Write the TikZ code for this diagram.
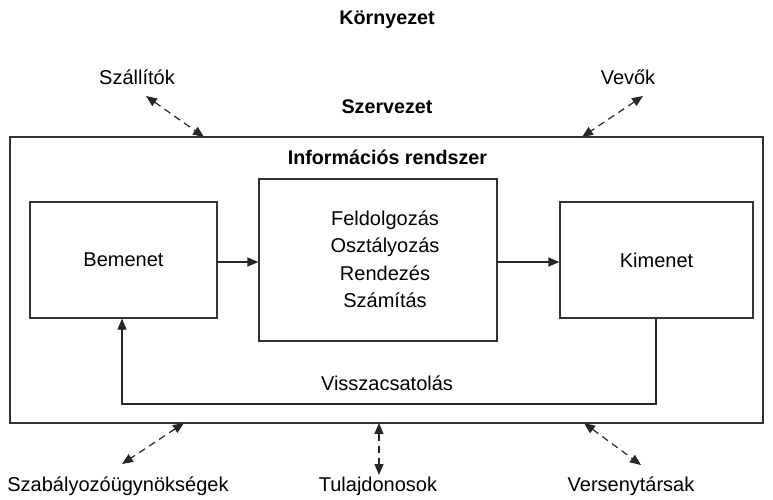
\documentclass[tikz,border=0pt]{standalone}
\usepackage{fontspec}
\setmainfont{Liberation Sans}
\usetikzlibrary{arrows.meta}
\begin{document}
\begin{tikzpicture}[x=1pt,y=-1pt,
  every node/.style={font=\fontsize{20}{24}\selectfont, inner sep=0pt},
  title/.style={font=\fontsize{19.7}{24}\selectfont\bfseries},
  box/.style={draw=black!80, line width=1.2pt},
  flow/.style={line width=1.2pt, draw=black!85, -{Triangle[length=11pt,width=9pt]}},
  link/.style={line width=1.2pt, draw=black!85, dash pattern=on 7pt off 5pt,
    {Triangle[length=11pt,width=9pt]}-{Triangle[length=11pt,width=9pt]}}]
  \useasboundingbox (0,0) rectangle (773,499);

  % organisation boundary and subsystem boxes
  \draw[box] (10,137) rectangle (763,423);
  \node[box, minimum width=187pt, minimum height=116pt] (in) at (123.5,260) {Bemenet};
  \node[box, minimum width=238pt, minimum height=162pt] (proc) at (378,260) {};
  \node[align=center] (steps) at (385,259)
    {Feldolgozás\\[3.5pt]Osztályozás\\[3.5pt]Rendezés\\[3.5pt]Számítás};
  \node[box, minimum width=193pt, minimum height=116pt] (out) at (656.5,260) {Kimenet};

  % titles
  \node[title] (env) at (387,20) {Környezet};
  \node[title] (org) at (387,107) {Szervezet};
  \node[title] (is) at (387.5,157) {Információs rendszer};

  % data flow
  \draw[flow] (in.east |- 0,262) -- (proc.west |- 0,262);
  \draw[flow] (proc.east |- 0,262) -- (out.west |- 0,262);
  \coordinate (fbR) at (656,404);
  \coordinate (fbL) at (122,404);
  \draw[flow] (out.south -| fbR) -- (fbR) -- (fbL) -- (in.south -| fbL);
  \node (fb) at (387,383) {Visszacsatolás};

  % environment actors
  \node (sup) at (137,77) {Szállítók};
  \node (cus) at (628,77) {Vevők};
  \node (reg) at (118,486) {Szabályozóügynökségek};
  \node (own) at (378,486) {Tulajdonosok};
  \node (com) at (631,486) {Versenytársak};

  \coordinate (supA) at (146,96);  \coordinate (supB) at (204,137);
  \coordinate (cusA) at (643,96);  \coordinate (cusB) at (582,137);
  \coordinate (regA) at (184,423); \coordinate (regB) at (122,464);
  \coordinate (ownA) at (379,423); \coordinate (ownB) at (379,475);
  \coordinate (comA) at (584,423); \coordinate (comB) at (641,465);
  \draw[link] (supA) -- (supB);
  \draw[link] (cusA) -- (cusB);
  \draw[link] (regA) -- (regB);
  \draw[link] (ownA) -- (ownB);
  \draw[link] (comA) -- (comB);
\end{tikzpicture}
\end{document}
